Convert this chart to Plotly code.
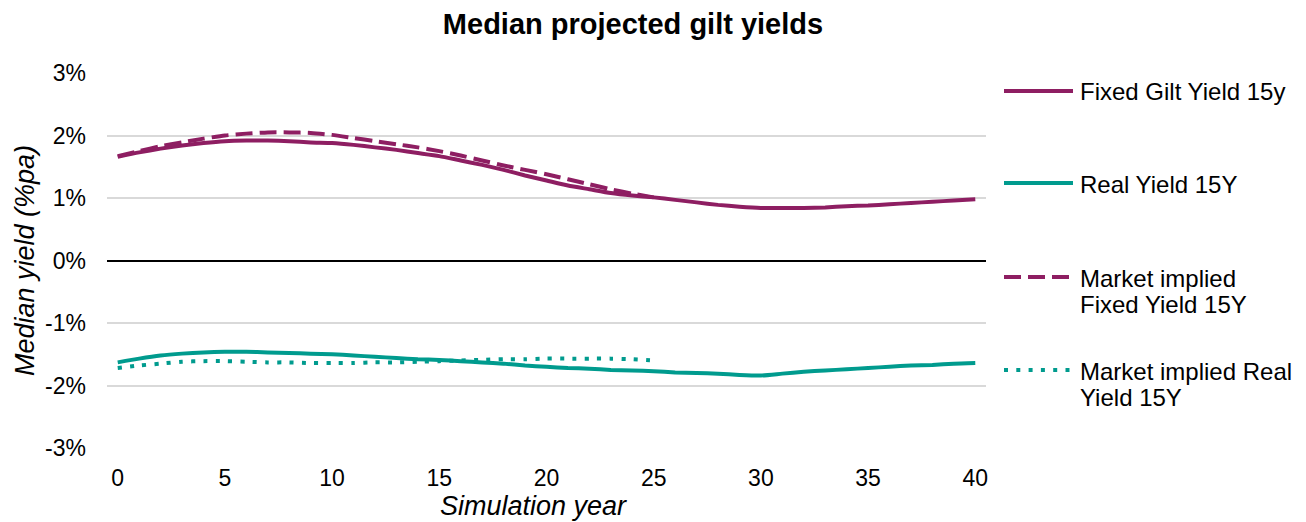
import plotly.graph_objects as go

# Simulation years
years = list(range(0, 41))
years_market = list(range(0, 26))

# Median projected yields (% pa)
fixed_gilt_15y = [
    1.66, 1.73, 1.79, 1.84, 1.88, 1.91, 1.92, 1.92, 1.91, 1.89,
    1.88, 1.85, 1.81, 1.77, 1.72, 1.67, 1.60, 1.53, 1.45, 1.36,
    1.28, 1.20, 1.14, 1.08, 1.04, 1.01, 0.97, 0.93, 0.89, 0.86,
    0.84, 0.84, 0.84, 0.85, 0.87, 0.88, 0.90, 0.92, 0.94, 0.96,
    0.98,
]
real_yield_15y = [
    -1.63, -1.57, -1.52, -1.49, -1.47, -1.46, -1.46, -1.47, -1.48, -1.49,
    -1.50, -1.52, -1.54, -1.56, -1.58, -1.59, -1.61, -1.63, -1.65, -1.68,
    -1.70, -1.72, -1.73, -1.75, -1.76, -1.77, -1.79, -1.80, -1.81, -1.83,
    -1.84, -1.81, -1.78, -1.76, -1.74, -1.72, -1.70, -1.68, -1.67, -1.65,
    -1.64,
]
market_fixed_15y = [
    1.67, 1.75, 1.83, 1.89, 1.95, 2.00, 2.03, 2.05, 2.05, 2.04,
    2.01, 1.96, 1.91, 1.86, 1.81, 1.75, 1.68, 1.60, 1.52, 1.45,
    1.38, 1.30, 1.22, 1.14, 1.07, 1.01,
]
market_real_15y = [
    -1.72, -1.68, -1.65, -1.62, -1.61, -1.61, -1.62, -1.63, -1.63, -1.64,
    -1.64, -1.64, -1.63, -1.63, -1.62, -1.61, -1.60, -1.59, -1.58, -1.58,
    -1.57, -1.57, -1.57, -1.57, -1.58, -1.60,
]

# Legend labels, one list entry per text line
series_labels = [
    ["Fixed Gilt Yield 15y"],
    ["Real Yield 15Y"],
    ["Market implied", "Fixed Yield 15Y"],
    ["Market implied Real", "Yield 15Y"],
]
y_ticks = [-3, -2, -1, 0, 1, 2, 3]
y_tick_labels = ["-3%", "-2%", "-1%", "0%", "1%", "2%", "3%"]
x_ticks = list(range(0, 41, 5))

PURPLE = "#8E1E62"
TEAL = "#009B8E"
FONT = "Liberation Sans, Arial, sans-serif"

W, H = 1306, 522
ML, MR, MT, MB = 107, 320, 73, 74
PW, PH = W - ML - MR, H - MT - MB


def px_x(px):
    return (px - ML) / PW


def px_y(py):
    return (H - MB - py) / PH


styles = [
    dict(color=PURPLE, dash="solid"),
    dict(color=TEAL, dash="solid"),
    dict(color=PURPLE, dash="17px,7px"),
    dict(color=TEAL, dash="4px,8.3px"),
]
data = [
    (years, fixed_gilt_15y),
    (years, real_yield_15y),
    (years_market, market_fixed_15y),
    (years_market, market_real_15y),
]

fig = go.Figure()
for (xs, ys), label, st in zip(data, series_labels, styles):
    fig.add_trace(go.Scatter(
        x=xs, y=ys, mode="lines", name=" ".join(label),
        line=dict(color=st["color"], width=4, dash=st["dash"], shape="spline", smoothing=0.6),
        showlegend=False,
    ))

# Legend drawn at the right of the plot area
legend_rows = [91, 183, 277, 370]
LINE_STEP = 26
for label, st, row in zip(series_labels, styles, legend_rows):
    fig.add_shape(
        type="line", xref="paper", yref="paper",
        x0=px_x(1004), x1=px_x(1073), y0=px_y(row), y1=px_y(row),
        line=dict(color=st["color"], width=4, dash=st["dash"]),
    )
    for i, line_text in enumerate(label):
        fig.add_annotation(
            xref="paper", yref="paper", x=px_x(1078), y=px_y(row + 1 + i * LINE_STEP),
            xanchor="left", yanchor="middle", align="left", showarrow=False,
            text=line_text, font=dict(family=FONT, size=24, color="#000000"),
        )

# Horizontal axis title
fig.add_annotation(
    xref="paper", yref="paper", x=px_x(533), y=px_y(506),
    xanchor="center", yanchor="middle", showarrow=False,
    text="<i>Simulation year</i>", font=dict(family=FONT, size=27, color="#000000"),
)

fig.update_layout(
    width=W, height=H,
    margin=dict(l=ML, r=MR, t=MT, b=MB),
    paper_bgcolor="white", plot_bgcolor="white",
    font=dict(family=FONT, size=23, color="#000000"),
    title=dict(
        text="<b>Median projected gilt yields</b>",
        x=633 / W, xref="container", xanchor="center",
        y=1 - 24 / H, yref="container", yanchor="middle",
        font=dict(family=FONT, size=29, color="#000000"),
    ),
    showlegend=False,
    xaxis=dict(
        range=[-0.5, 40.5], tickvals=x_ticks, ticks="", showgrid=False,
        zeroline=False, showline=False, ticklabelstandoff=14,
        tickfont=dict(size=23),
    ),
    yaxis=dict(
        range=[-3, 3], tickvals=y_ticks, ticktext=y_tick_labels, ticks="",
        showgrid=True, gridcolor="#D9D9D9", gridwidth=1.5,
        zeroline=True, zerolinecolor="#000000", zerolinewidth=1.5,
        showline=False, ticklabelstandoff=20, tickfont=dict(size=23),
        title=dict(text="<i>Median yield (%pa)</i>", font=dict(size=27), standoff=2),
    ),
)

fig.write_html("out.html")
